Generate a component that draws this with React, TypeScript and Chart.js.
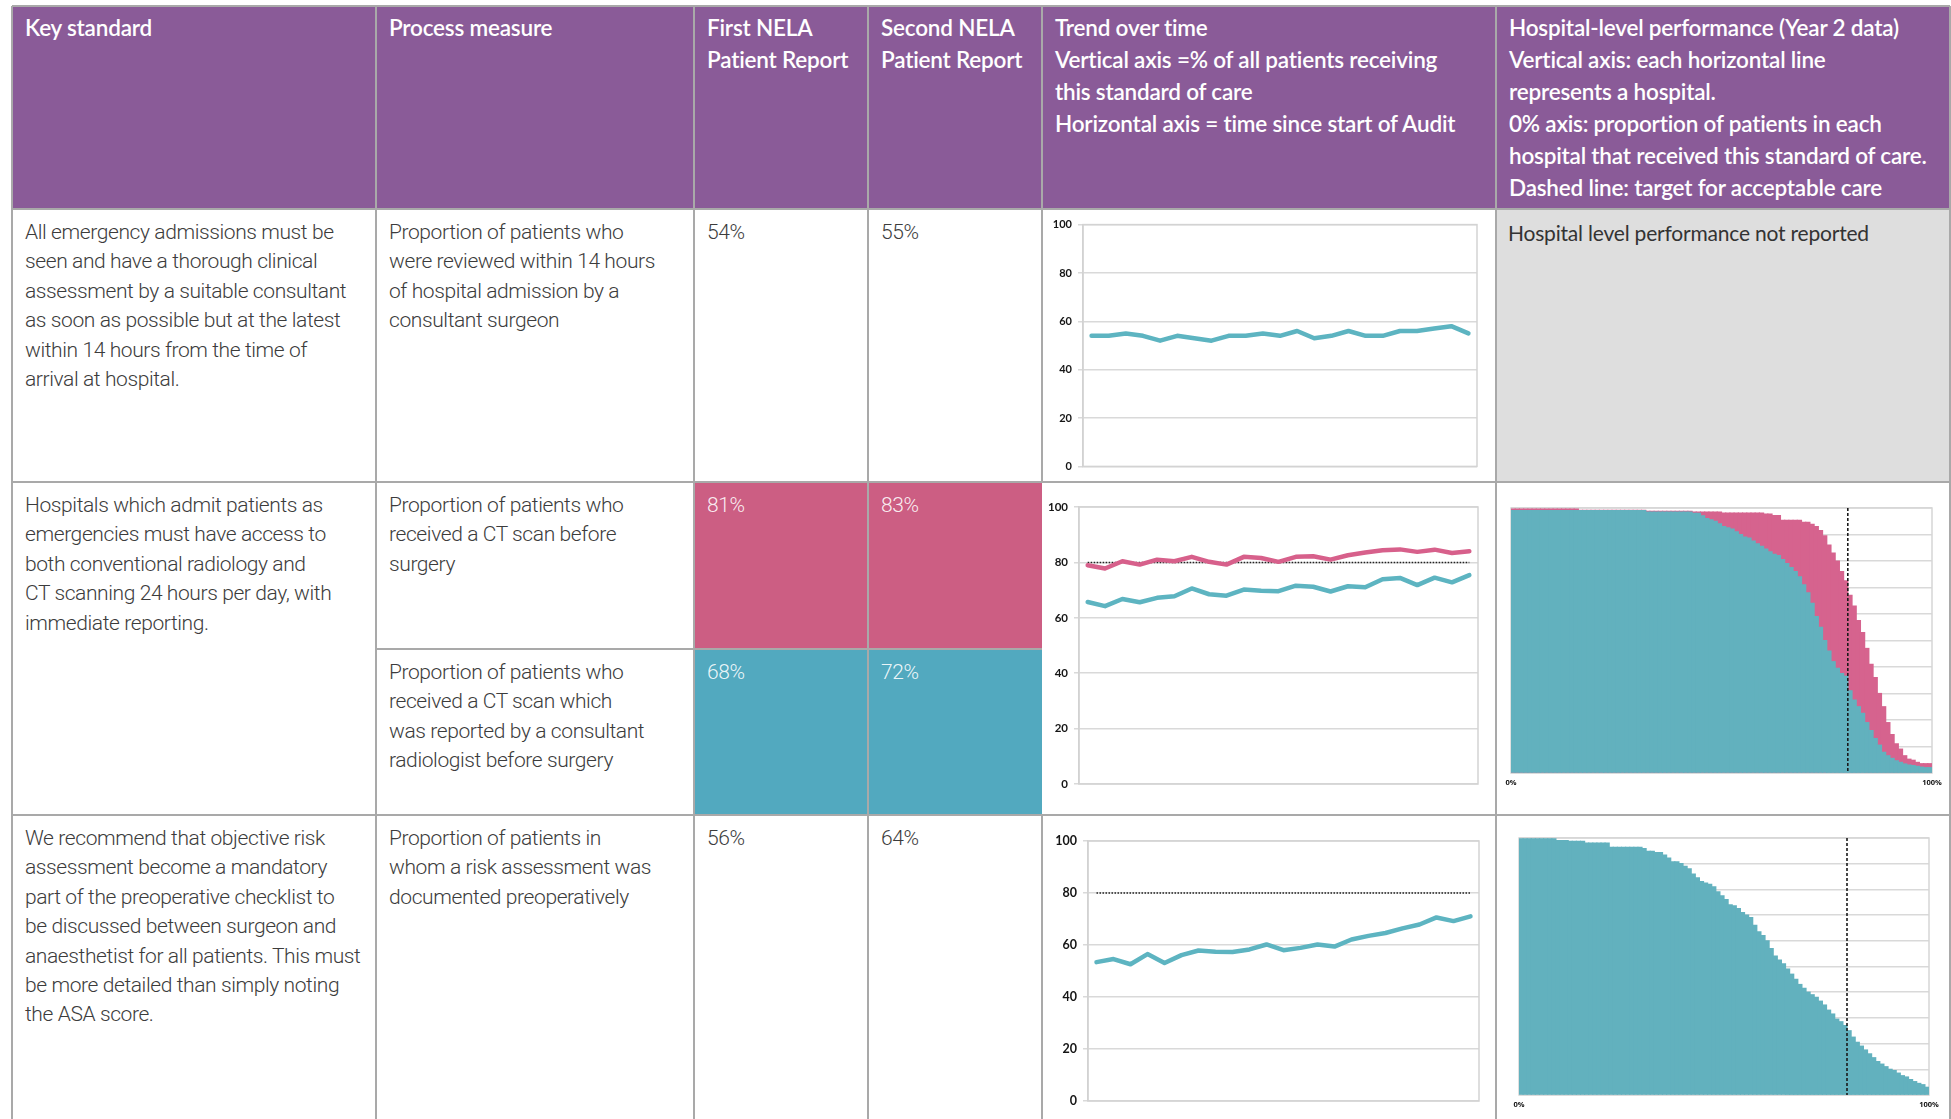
import React, { useEffect, useRef } from 'react';
import { Chart, registerables } from 'chart.js';

Chart.register(...registerables);
Chart.defaults.font.family = "'Lato', 'Open Sans', sans-serif";

// ---------------- data ----------------
const periods = ['1', '2', '3', '4', '5', '6', '7', '8', '9', '10', '11', '12', '13', '14', '15', '16', '17', '18', '19', '20', '21', '22', '23'];

const consultantReview14h = [54, 54, 55, 54, 52, 54, 53, 52, 54, 54, 55, 54, 56, 53, 54, 56, 54, 54, 56, 56, 57, 58, 55];
const ctBeforeSurgery = [79.0, 77.8, 80.4, 79.2, 81.0, 80.4, 82.0, 80.2, 79.2, 82.0, 81.6, 80.2, 82.0, 82.2, 81.0, 82.6, 83.6, 84.4, 84.7, 83.8, 84.6, 83.4, 84.0];
const ctReportedByConsultant = [65.7, 64.2, 66.8, 65.6, 67.2, 67.8, 70.6, 68.5, 68.0, 70.2, 69.8, 69.6, 71.6, 71.2, 69.5, 71.4, 71.0, 73.9, 74.4, 71.8, 74.5, 72.8, 75.4];
const riskAssessmentDocumented = [53.4, 54.6, 52.6, 56.5, 53.1, 56.1, 57.9, 57.4, 57.3, 58.3, 60.2, 58.0, 58.9, 60.2, 59.4, 62.1, 63.5, 64.6, 66.4, 67.9, 70.6, 69.2, 71.0];

const targetPercent = 80;
const trendYTicks = [0, 20, 40, 60, 80, 100];
const hospitalAxisLabels = ['0%', '100%'];

// hospital-level (Year 2), one value per hospital, sorted
const hospitalCTScan = [
  99.6, 99.6, 99.6, 99.6, 99.6, 99.6, 99.6, 99.6, 99.6, 99.6, 99.6, 99.6, 99.6, 99.6, 99.6, 99.6,
  99.1, 99.1, 99.1, 99.1, 99.1, 99.1, 99.1, 99.1, 99.1, 99.1, 99.1, 99.1, 99.1, 99.1, 99.1, 99.1,
  98.7, 98.7, 98.7, 98.7, 98.7, 98.7, 98.7, 98.7, 98.7, 98.7, 98.7,
  98.5, 98.5, 98.5, 98.5, 98.5, 98.5, 98.5,
  98.1, 98.1, 98.1, 98.1, 98.1, 98.1, 98.1, 98.1, 98.1, 98.1,
  97.7, 97.7, 97.1, 97.1,
  95.3, 95.3, 95.3, 95.3, 95.3, 94.6, 94.6,
  93.8, 93, 91.5, 89.5, 86, 83, 80, 76, 72.5, 67, 63, 57.5, 53, 47, 41, 36, 30, 25, 19, 14.5,
  11, 9, 6.5, 5.2, 4.8, 4, 3.5, 3.5, 3.5,
];
const hospitalCTReported = [
  99, 99, 99, 99, 99, 99, 99, 99, 99, 99, 99, 99, 99, 99, 99, 99,
  99, 99, 99, 99, 99, 99, 99, 99, 99, 99, 99, 99, 99, 99, 99, 99,
  98.5, 98.5, 98.5, 98.5, 98.5, 98.5, 98.5, 98.5, 98.5, 98.5, 98.5,
  98, 98, 97, 96, 95.5, 95, 94, 93, 92.5, 92, 91, 90, 89, 88.6, 87.5, 86.5, 85.5, 84.5, 83.5, 82.5,
  82, 80.5, 79, 77.5, 76, 74, 71, 68, 64, 59, 55, 50, 46, 42, 39.5, 37.5, 36.5, 31, 27.5, 25,
  22.5, 19, 16, 13, 10.5, 7.8, 6.5, 5.5, 4.6, 4, 3.4, 3, 2.8, 2.5, 2.2, 2, 2,
];
const hospitalRiskAssessment = [
  99.7, 99.7, 99.7, 99.7, 99.7, 99.7, 99.7, 99.7, 99.7, 99, 99, 99, 98.7, 98.7, 98.7, 98.7,
  98, 98, 98, 98, 98, 98, 96.4, 96.4, 96.4, 96.4, 96.4, 96.4, 96.4, 96.4, 95.9, 94.8, 94.8,
  94.3, 94.3, 93.3, 92.2, 90.7, 90.7, 90,
  89, 88, 86, 84.5, 83, 82.5, 82, 81, 79, 77.5, 76, 74, 73.6, 72.5, 71, 70, 69, 66, 63.5, 62,
  60, 57, 54, 52.5, 51, 49, 47, 45, 43, 41.5, 40, 39, 38, 36.5, 35, 33, 31.5, 29.5, 28.5, 27,
  25, 22.5, 20.5, 19, 17.5, 16, 14.5, 13, 12, 11, 10, 9.5, 8.5, 7.5, 7, 6, 5.2, 4.5, 4, 3,
];

// ---------------- table text ----------------
const headerTexts = [
  ['Key standard'],
  ['Process measure'],
  ['First NELA', 'Patient Report'],
  ['Second NELA', 'Patient Report'],
  ['Trend over time', 'Vertical axis =% of all patients receiving', 'this standard of care', 'Horizontal axis = time since start of Audit'],
  ['Hospital-level performance (Year 2 data)', 'Vertical axis: each horizontal line', 'represents a hospital.', '0% axis: proportion of patients in each', 'hospital that received this standard of care.', 'Dashed line: target for acceptable care'],
];
const standard1 = ['All emergency admissions must be', 'seen and have a thorough clinical', 'assessment by a suitable consultant', 'as soon as possible but at the latest', 'within 14 hours from the time of', 'arrival at hospital.'];
const measure1 = ['Proportion of patients who', 'were reviewed within 14 hours', 'of hospital admission by a', 'consultant surgeon'];
const standard2 = ['Hospitals which admit patients as', 'emergencies must have access to', 'both conventional radiology and', 'CT scanning 24 hours per day, with', 'immediate reporting.'];
const measure2a = ['Proportion of patients who', 'received a CT scan before', 'surgery'];
const measure2b = ['Proportion of patients who', 'received a CT scan which', 'was reported by a consultant', 'radiologist before surgery'];
const standard3 = ['We recommend that objective risk', 'assessment become a mandatory', 'part of the preoperative checklist to', 'be discussed between surgeon and', 'anaesthetist for all patients. This must', 'be more detailed than simply noting', 'the ASA score.'];
const measure3 = ['Proportion of patients in', 'whom a risk assessment was', 'documented preoperatively'];
const firstReport = ['54%', '81%', '68%', '56%'];
const secondReport = ['55%', '83%', '72%', '64%'];
const notReported = 'Hospital level performance not reported';

// ---------------- colours ----------------
const PURPLE = '#8a5b98';
const PINK_CELL = '#cc5e83';
const TEAL_CELL = '#52a9bf';
const LINE_TEAL = '#5db4c1';
const LINE_PINK = '#d7608b';
const FILL_TEAL = '#62b1be';
const FILL_PINK = '#d6638e';
const RULE = '#a9a9a9';
const FONT = "'Lato', 'Open Sans', sans-serif";
const BODY_FONT = "'Roboto', 'Lato', sans-serif";

// ---------------- plugins ----------------
const framePlugin = {
  id: 'frame',
  beforeDatasetsDraw(chart: any, _a: any, opts: any) {
    const { ctx, chartArea } = chart;
    ctx.save();
    ctx.strokeStyle = opts.color || '#d3d3d3';
    ctx.lineWidth = opts.width || 1.5;
    ctx.strokeRect(chartArea.left, chartArea.top, chartArea.right - chartArea.left, chartArea.bottom - chartArea.top);
    ctx.restore();
  },
};

function drawRef(chart: any, opts: any) {
  if (!opts || opts.value == null) return;
  const { ctx, chartArea } = chart;
  ctx.save();
  ctx.strokeStyle = opts.color;
  ctx.lineWidth = opts.width;
  ctx.setLineDash(opts.dash);
  ctx.beginPath();
  if (opts.axis === 'y') {
    const y = chart.scales.y.getPixelForValue(opts.value);
    const xs = chart.scales.x;
    ctx.moveTo(xs.getPixelForValue(0), y);
    ctx.lineTo(xs.getPixelForValue(chart.data.labels.length - 1), y);
  } else {
    const x = chart.scales[opts.scaleID].getPixelForValue(opts.value);
    ctx.moveTo(x, chartArea.top);
    ctx.lineTo(x, chartArea.bottom);
  }
  ctx.stroke();
  ctx.restore();
}

const refLinePlugin = {
  id: 'refLine',
  beforeDatasetsDraw(chart: any, _a: any, opts: any) {
    if (opts && opts.layer === 'behind') drawRef(chart, opts);
  },
  afterDatasetsDraw(chart: any, _a: any, opts: any) {
    if (opts && opts.layer === 'front') drawRef(chart, opts);
  },
};

type Pad = { left: number; right: number; top: number; bottom: number };

function trendConfig(series: { data: number[]; color: string }[], showTarget: boolean, yWidth: number, pad: Pad, tickSize: number): any {
  return {
    type: 'line',
    data: {
      labels: periods,
      datasets: series.map((s) => ({
        data: s.data,
        borderColor: s.color,
        backgroundColor: s.color,
        borderWidth: 4.5,
        pointRadius: 0,
        tension: 0,
        fill: false,
        borderJoinStyle: 'round',
        borderCapStyle: 'round',
      })),
    },
    options: {
      animation: false,
      responsive: false,
      layout: { padding: pad },
      plugins: {
        legend: { display: false },
        tooltip: { enabled: false },
        frame: { color: '#d3d3d3', width: 1.5 },
        refLine: showTarget
          ? { axis: 'y', value: targetPercent, color: '#222222', width: 1.5, dash: [1.5, 1.5], layer: 'behind' }
          : { value: null },
      },
      scales: {
        x: { type: 'category', offset: true, display: false },
        y: {
          min: trendYTicks[0],
          max: trendYTicks[trendYTicks.length - 1],
          ticks: {
            stepSize: trendYTicks[1] - trendYTicks[0],
            color: '#151515',
            font: { family: FONT, size: tickSize, weight: 'bold' },
            padding: 6,
          },
          grid: { color: '#d9d9d9', lineWidth: 1.5, tickLength: 5 },
          border: { display: true, color: '#cfcfcf', width: 1.5 },
          afterFit: (s: any) => {
            s.width = yWidth;
          },
        },
      },
    },
    plugins: [framePlugin, refLinePlugin],
  };
}

function hospitalConfig(series: { data: number[]; color: string }[], pad: Pad): any {
  return {
    type: 'bar',
    data: {
      labels: series[0].data.map((_, i) => `Hospital ${i + 1}`),
      datasets: series.map((s) => ({
        data: s.data,
        backgroundColor: s.color,
        borderWidth: 0,
        barPercentage: 1,
        categoryPercentage: 1,
        grouped: false,
        inflateAmount: 0.6,
        xAxisID: 'xCat',
        yAxisID: 'y',
      })),
    },
    options: {
      animation: false,
      responsive: false,
      layout: { padding: pad },
      plugins: {
        legend: { display: false },
        tooltip: { enabled: false },
        frame: { color: '#d6d6d6', width: 1.5 },
        refLine: { axis: 'x', scaleID: 'x', value: targetPercent, color: '#1a1a1a', width: 1.6, dash: [3, 2], layer: 'front' },
      },
      scales: {
        xCat: { type: 'category', display: false, offset: true },
        x: {
          type: 'linear',
          position: 'bottom',
          offset: false,
          min: 0,
          max: 100,
          ticks: {
            stepSize: 100,
            autoSkip: false,
            maxRotation: 0,
            minRotation: 0,
            color: '#111111',
            font: { family: "'Open Sans', 'Lato', sans-serif", size: 7.5, weight: 'bold' },
            padding: 5,
            callback: (v: any) => (v === 0 ? hospitalAxisLabels[0] : hospitalAxisLabels[1]),
          },
          grid: { display: false, drawTicks: false, offset: false },
          border: { display: false },
          afterFit: (s: any) => {
            s.height = 18;
          },
        },
        y: {
          min: 0,
          max: 100,
          ticks: { display: false, stepSize: 10 },
          grid: { color: '#d9d9d9', lineWidth: 1.5, drawTicks: false },
          border: { display: false },
          afterFit: (s: any) => {
            s.width = 0;
          },
        },
      },
    },
    plugins: [framePlugin, refLinePlugin],
  };
}

const makeTrend1 = () =>
  trendConfig([{ data: consultantReview14h, color: LINE_TEAL }], false, 38, { left: 0, right: 16, top: 12, bottom: 12 }, 11);
const makeTrend2 = () =>
  trendConfig(
    [
      { data: ctBeforeSurgery, color: LINE_PINK },
      { data: ctReportedByConsultant, color: LINE_TEAL },
    ],
    true,
    34,
    { left: 0, right: 15, top: 22, bottom: 28 },
    11.5
  );
const makeTrend3 = () =>
  trendConfig([{ data: riskAssessmentDocumented, color: LINE_TEAL }], true, 43, { left: 0, right: 14, top: 23, bottom: 15 }, 12.5);
const makeHosp2 = () =>
  hospitalConfig(
    [
      { data: hospitalCTReported, color: FILL_TEAL },
      { data: hospitalCTScan, color: FILL_PINK },
    ],
    { left: 12, right: 16, top: 23, bottom: 21 }
  );
const makeHosp3 = () => hospitalConfig([{ data: hospitalRiskAssessment, color: FILL_TEAL }], { left: 20, right: 19, top: 20, bottom: 3 });

function ChartCanvas({ left, top, width, height, make }: { left: number; top: number; width: number; height: number; make: () => any }) {
  const ref = useRef<HTMLCanvasElement | null>(null);
  useEffect(() => {
    if (!ref.current) return;
    const chart = new Chart(ref.current, make());
    return () => chart.destroy();
  }, [make]);
  return (
    <canvas
      ref={ref}
      width={width}
      height={height}
      style={{ position: 'absolute', left, top, width, height, display: 'block' }}
    />
  );
}

// ---------------- layout ----------------
const COLS = [12, 376, 694, 868, 1042, 1496, 1950];
const ROWS = [6, 209, 482, 815, 1130];
const SPLIT_Y = 649;

function Rect({ x0, y0, x1, y1, bg }: { x0: number; y0: number; x1: number; y1: number; bg: string }) {
  return <div style={{ position: 'absolute', left: x0, top: y0, width: x1 - x0, height: y1 - y0, background: bg }} />;
}

function Text({ x, y, lines, color = '#3c3c3c', weight = 300, size = 21, lh = 29.4, spacing = -0.4, family = BODY_FONT }: any) {
  return (
    <div
      style={{
        position: 'absolute',
        left: x,
        top: y,
        whiteSpace: 'pre',
        fontFamily: family,
        fontWeight: weight,
        fontSize: size,
        lineHeight: `${lh}px`,
        letterSpacing: spacing,
        color,
      }}
    >
      {lines.join('\n')}
    </div>
  );
}

export default function App() {
  const pad = 13;
  const hLines: [number, number, number][] = [
    [ROWS[0], COLS[0], COLS[6]],
    [ROWS[1], COLS[0], COLS[6]],
    [ROWS[2], COLS[0], COLS[6]],
    [ROWS[3], COLS[0], COLS[6]],
    [SPLIT_Y, COLS[1], COLS[4]],
  ];
  const bodyTop = (r: number) => r + 9;
  return (
    <div
      style={{
        position: 'absolute',
        left: 0,
        top: 0,
        width: 1951,
        height: 1119,
        overflow: 'hidden',
        background: '#ffffff',
        fontFamily: FONT,
      }}
    >
      {/* backgrounds */}
      <Rect x0={COLS[0]} y0={ROWS[0]} x1={COLS[6]} y1={ROWS[1]} bg={PURPLE} />
      <Rect x0={COLS[5]} y0={ROWS[1]} x1={COLS[6]} y1={ROWS[2]} bg="#dedede" />
      <Rect x0={COLS[2]} y0={ROWS[2]} x1={COLS[4]} y1={SPLIT_Y} bg={PINK_CELL} />
      <Rect x0={COLS[2]} y0={SPLIT_Y} x1={COLS[4]} y1={ROWS[3]} bg={TEAL_CELL} />

      {/* rules */}
      {hLines.map(([y, a, b], i) => (
        <div key={'h' + i} style={{ position: 'absolute', left: a, top: y - 1, width: b - a, height: 2, background: RULE }} />
      ))}
      {COLS.map((x, i) => (
        <div
          key={'v' + i}
          style={{ position: 'absolute', left: x - 1, top: ROWS[0], width: 2, height: ROWS[4] - ROWS[0], background: i === 4 ? 'transparent' : RULE }}
        />
      ))}
      <div style={{ position: 'absolute', left: COLS[4] - 1, top: ROWS[0], width: 2, height: ROWS[2] - ROWS[0], background: RULE }} />
      <div style={{ position: 'absolute', left: COLS[4] - 1, top: ROWS[3], width: 2, height: ROWS[4] - ROWS[3], background: RULE }} />

      {/* header */}
      {headerTexts.map((lines, i) => (
        <Text key={'ht' + i} x={COLS[i] + pad} y={12} lines={lines} color="#ffffff" weight={600} size={22.5} lh={32} spacing={-0.2} family={FONT} />
      ))}

      {/* row 1 */}
      <Text x={COLS[0] + pad} y={bodyTop(ROWS[1])} lines={standard1} />
      <Text x={COLS[1] + pad} y={bodyTop(ROWS[1])} lines={measure1} />
      <Text x={COLS[2] + pad} y={bodyTop(ROWS[1])} lines={[firstReport[0]]} />
      <Text x={COLS[3] + pad} y={bodyTop(ROWS[1])} lines={[secondReport[0]]} />
      <Text x={COLS[5] + 12} y={bodyTop(ROWS[1])} lines={[notReported]} color="#333333" weight={400} family={FONT} spacing={-0.2} />

      {/* row 2 */}
      <Text x={COLS[0] + pad} y={bodyTop(ROWS[2])} lines={standard2} />
      <Text x={COLS[1] + pad} y={bodyTop(ROWS[2])} lines={measure2a} />
      <Text x={COLS[1] + pad} y={bodyTop(SPLIT_Y)} lines={measure2b} />
      <Text x={COLS[2] + pad} y={bodyTop(ROWS[2])} lines={[firstReport[1]]} color="rgba(255,255,255,0.9)" />
      <Text x={COLS[3] + pad} y={bodyTop(ROWS[2])} lines={[secondReport[1]]} color="rgba(255,255,255,0.9)" />
      <Text x={COLS[2] + pad} y={bodyTop(SPLIT_Y)} lines={[firstReport[2]]} color="rgba(255,255,255,0.9)" />
      <Text x={COLS[3] + pad} y={bodyTop(SPLIT_Y)} lines={[secondReport[2]]} color="rgba(255,255,255,0.9)" />

      {/* row 3 */}
      <Text x={COLS[0] + pad} y={bodyTop(ROWS[3])} lines={standard3} />
      <Text x={COLS[1] + pad} y={bodyTop(ROWS[3])} lines={measure3} />
      <Text x={COLS[2] + pad} y={bodyTop(ROWS[3])} lines={[firstReport[3]]} />
      <Text x={COLS[3] + pad} y={bodyTop(ROWS[3])} lines={[secondReport[3]]} />

      {/* charts */}
      <ChartCanvas left={1045} top={212} width={448} height={267} make={makeTrend1} />
      <ChartCanvas left={1045} top={485} width={448} height={327} make={makeTrend2} />
      <ChartCanvas left={1045} top={818} width={448} height={298} make={makeTrend3} />
      <ChartCanvas left={1499} top={485} width={449} height={327} make={makeHosp2} />
      <ChartCanvas left={1499} top={818} width={449} height={298} make={makeHosp3} />
    </div>
  );
}
